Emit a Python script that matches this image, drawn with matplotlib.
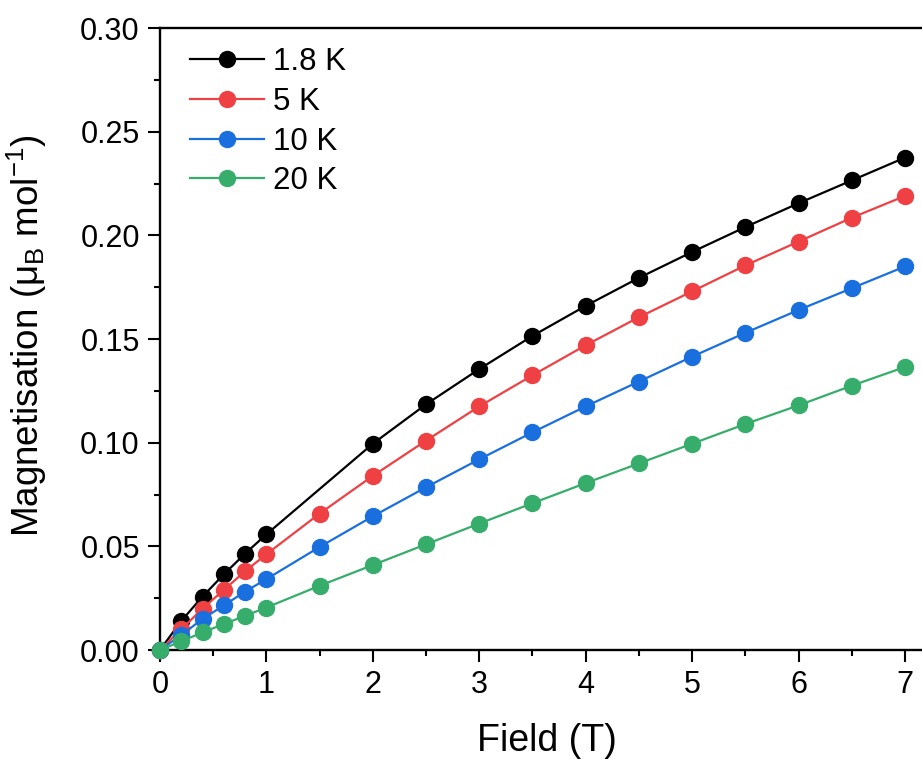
import matplotlib
matplotlib.use("Agg")
import matplotlib.pyplot as plt
from matplotlib.ticker import MultipleLocator

plt.rcParams['font.family'] = ['Liberation Sans', 'DejaVu Sans']
plt.rcParams['mathtext.fontset'] = 'custom'
plt.rcParams['mathtext.rm'] = 'Liberation Sans'
plt.rcParams['mathtext.it'] = 'Liberation Sans'
plt.rcParams['mathtext.bf'] = 'Liberation Sans:bold'

# Field (T) and magnetisation (muB/mol) at each temperature
field_full = [0, 0.2, 0.4, 0.6, 0.8, 1.0, 1.5, 2.0, 2.5, 3.0, 3.5, 4.0, 4.5, 5.0, 5.5, 6.0, 6.5, 7.0]
field_18K = [0, 0.2, 0.4, 0.6, 0.8, 1.0, 2.0, 2.5, 3.0, 3.5, 4.0, 4.5, 5.0, 5.5, 6.0, 6.5, 7.0]

m_18K = [0.0, 0.0140, 0.0258, 0.0365, 0.0465, 0.0558, 0.0995, 0.1185, 0.1355, 0.1515,
         0.1660, 0.1795, 0.1920, 0.2040, 0.2155, 0.2265, 0.2375]
m_5K = [0.0, 0.0100, 0.0200, 0.0290, 0.0380, 0.0462, 0.0658, 0.0840, 0.1010, 0.1175,
        0.1325, 0.1470, 0.1605, 0.1730, 0.1855, 0.1970, 0.2085, 0.2190]
m_10K = [0.0, 0.0072, 0.0150, 0.0215, 0.0282, 0.0342, 0.0497, 0.0645, 0.0785, 0.0920,
         0.1050, 0.1175, 0.1295, 0.1415, 0.1530, 0.1640, 0.1745, 0.1850]
m_20K = [0.0, 0.0042, 0.0085, 0.0125, 0.0165, 0.0205, 0.0310, 0.0410, 0.0510, 0.0610,
         0.0708, 0.0805, 0.0900, 0.0995, 0.1090, 0.1180, 0.1275, 0.1365]

labels = ['1.8 K', '5 K', '10 K', '20 K']
colors = ['#000000', '#EF4043', '#1A6FDF', '#37AD6B']

fig = plt.figure(figsize=(9.22, 7.6), dpi=100)
ax = fig.add_axes([0.1735, 0.1447, 0.8265, 0.8184])

series = [(field_18K, m_18K), (field_full, m_5K), (field_full, m_10K), (field_full, m_20K)]
for (x, y), lab, c in zip(series, labels, colors):
    ax.plot(x, y, '-o', color=c, lw=1.6, ms=11.5, label=lab, clip_on=False, zorder=3)

ax.set_xlim(0, 7.16)
ax.set_ylim(0, 0.30)
ax.xaxis.set_major_locator(MultipleLocator(1))
ax.xaxis.set_minor_locator(MultipleLocator(0.5))
ax.yaxis.set_major_locator(MultipleLocator(0.05))
ax.yaxis.set_minor_locator(MultipleLocator(0.025))
ax.yaxis.set_major_formatter(plt.FuncFormatter(lambda v, p: f'{v:.2f}'))

for side in ['left', 'bottom', 'top']:
    ax.spines[side].set_linewidth(1.7)
ax.spines['right'].set_visible(False)

ax.tick_params(which='major', direction='out', length=8.5, width=1.5, labelsize=22, pad=6)
ax.tick_params(which='minor', direction='out', length=4.5, width=1.5)
ax.tick_params(top=False, right=False, which='both')

ax.set_xlabel('Field (T)', fontsize=27)
ax.set_ylabel(r'Magnetisation ($\mu_\mathrm{B}$ mol$^{-1}$)', fontsize=26.5)
ax.xaxis.set_label_coords(0.508, -0.117)
ax.yaxis.set_label_coords(-0.145, 0.506)

ax.legend(loc='upper left', frameon=False, fontsize=22.5, handlelength=2.37,
          handletextpad=0.3, labelspacing=0.31, borderaxespad=0, borderpad=0,
          bbox_to_anchor=(0.039, 0.969))

fig.savefig('out.png', dpi=100)
